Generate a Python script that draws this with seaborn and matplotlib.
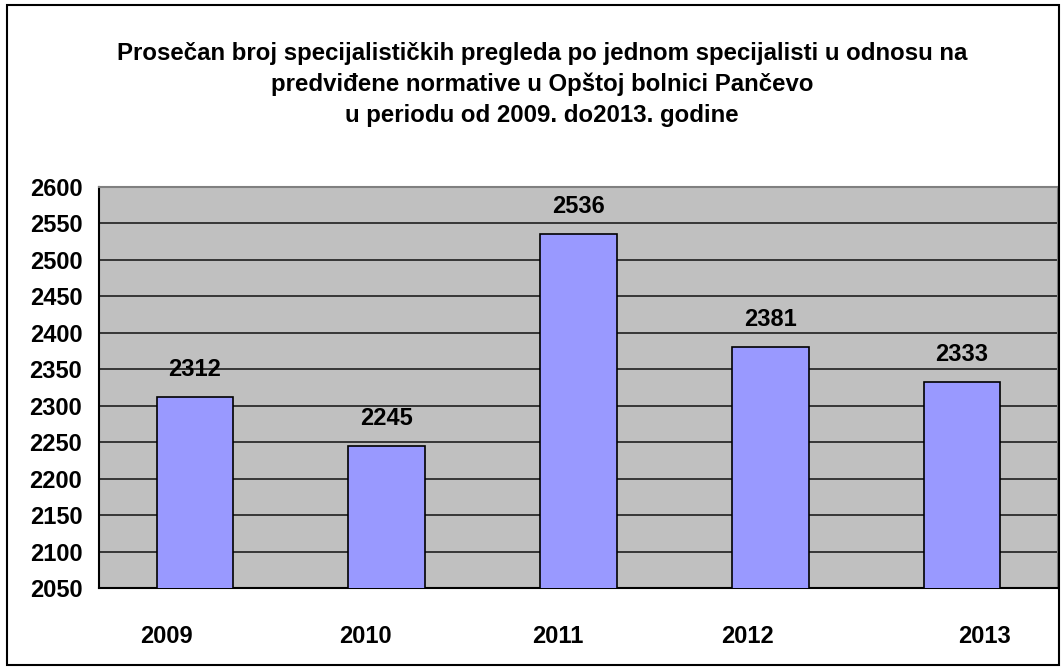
import matplotlib
matplotlib.use('Agg')
import matplotlib.pyplot as plt
import seaborn as sns
import pandas as pd
from matplotlib.patches import Rectangle
from matplotlib.transforms import ScaledTranslation

# --- Data ---
years  = ['2009', '2010', '2011', '2012', '2013']
values = [2312, 2245, 2536, 2381, 2333]
yticks = list(range(2050, 2601, 50))

title = ('Prosečan broj specijalističkih pregleda po jednom specijalisti u odnosu na\n'
         'predviđene normative u Opštoj bolnici Pančevo\n'
         'u periodu od 2009. do2013. godine')

df = pd.DataFrame({'Godina': years, 'Broj': values})

sns.set_style('white')
plt.rcParams['font.family'] = ['Liberation Sans', 'DejaVu Sans']
plt.rcParams['text.color'] = 'black'
plt.rcParams['xtick.color'] = 'black'
plt.rcParams['ytick.color'] = 'black'

fig = plt.figure(figsize=(10.61, 6.70), dpi=100)
ax = fig.add_axes([0.0933, 0.1224, 0.9037, 0.5985])

sns.barplot(data=df, x='Godina', y='Broj', color='#9999FF', saturation=1,
            width=0.4, edgecolor='black', linewidth=1.2, ax=ax, zorder=3)

ax.set_facecolor('#C0C0C0')
ax.set_ylim(2050, 2600)
ax.set_yticks(yticks)
ax.yaxis.grid(True, color='#111111', linewidth=1.1, zorder=0)
ax.set_axisbelow(True)
ax.set_xlabel('')
ax.set_ylabel('')

for s in ['top', 'right']:
    ax.spines[s].set_color('#808080')
    ax.spines[s].set_linewidth(1.5)
for s in ['left', 'bottom']:
    ax.spines[s].set_color('black')
    ax.spines[s].set_linewidth(1.5)

ax.tick_params(axis='y', direction='out', length=7, width=1.3,
               labelsize=17, pad=5)
ax.tick_params(axis='x', which='major', length=0, labelsize=17, pad=27)
# small separators between categories on the category axis
ax.set_xticks([i + 0.5 for i in range(-1, len(years))], minor=True)
ax.tick_params(axis='x', which='minor', direction='out', length=3, width=1.3)
ax.set_xlim(-0.5, len(years) - 0.5)

for lbl in ax.get_yticklabels() + ax.get_xticklabels():
    lbl.set_fontweight('bold')
# category labels sit slightly off-centre in the original
shifts_px = [-28, -21, -21, -23, 23]
for lbl, dx in zip(ax.get_xticklabels(), shifts_px):
    lbl.set_transform(lbl.get_transform() + ScaledTranslation(dx / 100, 0, fig.dpi_scale_trans))

# value labels above bars
for i, v in enumerate(values):
    ax.annotate(str(v), (i, v), xytext=(0, 19.5), textcoords='offset points',
                ha='center', va='center', fontsize=17, fontweight='bold')

fig.text(0.511, 0.874, title, ha='center', va='center', fontsize=17.3,
         fontweight='bold', linespacing=1.43)

# outer chart border
fig.patches.append(Rectangle((0.0066, 0.0075), 0.9915, 0.985, transform=fig.transFigure,
                             fill=False, edgecolor='black', linewidth=1.5))

fig.savefig('out.png', dpi=100)
